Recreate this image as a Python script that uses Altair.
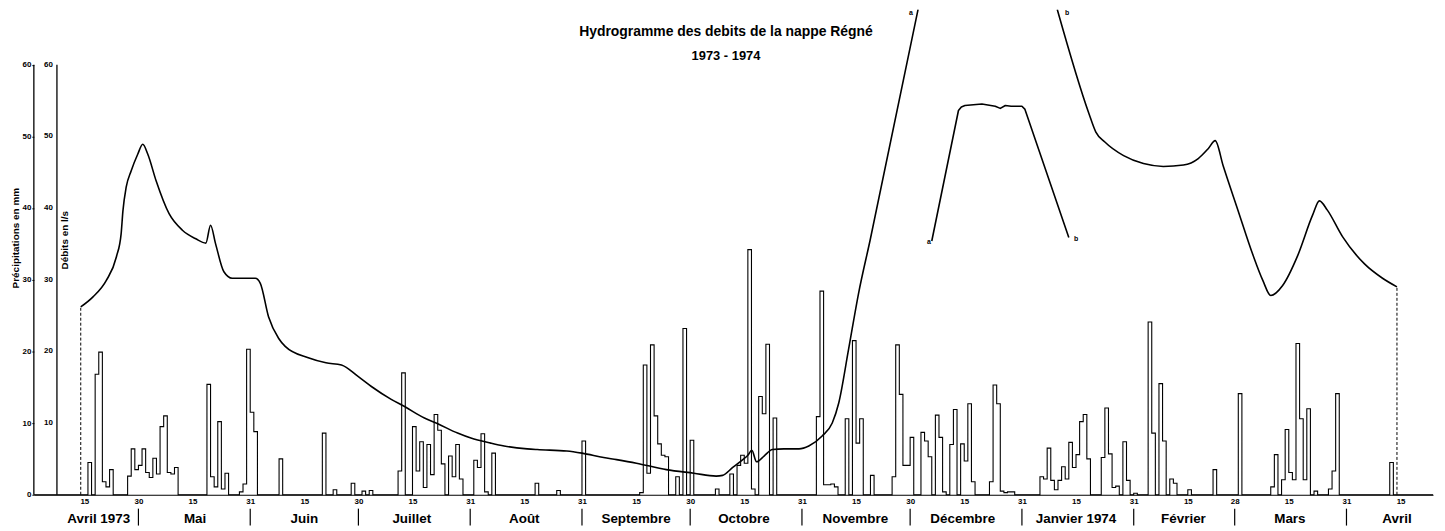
import altair as alt
import pandas as pd

# ---------------- data ----------------
# day index = days since 1 April 1973 (day 0 = 1 April 1973)
rain_day = [16, 18, 19, 20, 21, 22,
            27, 28, 29, 30, 31, 32, 33, 34, 35, 36, 37, 38, 39, 40,
            49, 50, 51, 52, 53, 54, 58, 59, 60, 61, 62,
            69, 81, 84, 89, 92, 94,
            102, 103, 106, 107, 108, 109, 110, 111, 112, 113, 114,
            116, 117, 118, 119, 123, 124, 125, 126, 128,
            140, 146, 153,
            169, 170, 171, 172, 173, 174, 175, 176, 179, 181, 183,
            190, 194, 196, 197, 198, 199, 200, 202, 203, 204, 206,
            218, 219, 220, 221, 222, 223, 226, 228, 229, 230, 233,
            239, 240, 241, 242, 243, 244, 247, 248, 249, 251, 252, 253,
            255, 256, 258, 259, 260, 261, 266, 267, 268, 269, 270, 271, 272,
            280, 281, 282, 283, 284, 285, 286, 287, 288, 289, 290, 291, 292, 293,
            297, 298, 299, 300, 301, 303, 304, 306,
            310, 311, 313, 314, 316, 317, 321, 328, 335,
            344, 345, 347, 348, 349, 350, 351, 352, 353, 354, 356,
            360, 361, 362, 377]
rain_mm = [4.5, 16.8, 19.9, 1.8, 1.1, 3.5,
           2.6, 6.4, 3.5, 4.1, 6.4, 3.1, 2.4, 5.1, 2.9, 9.5, 11.0, 3.1, 2.9, 3.8,
           15.4, 2.5, 1.1, 10.2, 0.8, 3.0, 0.4, 1.5, 20.3, 11.5, 8.8,
           5.0, 8.6, 0.7, 1.6, 0.5, 0.6,
           3.3, 17.0, 9.5, 3.3, 7.4, 1.0, 7.0, 2.8, 11.2, 9.0, 4.3,
           5.4, 2.5, 7.0, 2.2, 4.8, 3.8, 8.5, 0.4, 5.8,
           1.6, 0.6, 7.5,
           0.3, 18.1, 3.0, 20.9, 11.0, 7.1, 5.5, 5.3, 2.5, 23.2, 7.6,
           0.8, 2.9, 4.1, 5.5, 4.4, 34.2, 0.8, 13.7, 11.3, 21.0, 10.7,
           10.9, 28.4, 1.4, 1.4, 1.5, 1.1, 10.6, 21.5, 7.2, 10.6, 2.7,
           2.5, 20.9, 14.0, 4.1, 4.1, 8.0, 8.7, 7.5, 5.3, 11.1, 8.0, 0.4,
           7.0, 11.9, 7.1, 4.7, 12.7, 1.8, 1.8, 15.3, 12.7, 0.5, 0.3, 0.4, 0.4,
           2.5, 2.2, 6.5, 2.0, 0.7, 2.0, 3.9, 2.2, 7.3, 3.8, 5.6, 10.2, 11.2, 5.0,
           5.2, 12.1, 5.7, 1.0, 1.2, 7.4, 2.0, 0.2,
           24.1, 8.6, 15.5, 7.5, 2.2, 1.6, 0.7, 3.5, 14.1,
           1.1, 5.6, 2.1, 9.1, 3.1, 2.1, 21.1, 10.6, 2.1, 12.0, 0.5,
           0.8, 3.3, 14.1, 4.5]

# discharge (l/s) - main curve up to break "a"
q1_day = [14, 17.4, 21.1, 23.9, 25.2, 25.7, 26.6, 28, 29.8, 31.2, 32.6, 34.9,
          38.5, 42.2, 45.9, 48.7, 50, 51.4, 53.7, 56, 62.4, 63.8, 66.1, 68.9,
          70.7, 77.1, 82, 86.3, 90.9, 94.6, 100.1, 103.8, 109.3, 113, 118.5,
          122.2, 127.7, 131.4, 137.8, 140.6, 148.8, 153, 159, 162.6, 168.1,
          176.4, 184, 190.2, 192, 194.8, 197.6, 199, 200.1, 201.4, 203.5,
          205.8, 209, 213.2, 215.9, 219.6, 222.4, 224.2, 226.9, 229.7, 232.9,
          246.2]
q1_val = [26.2, 27.6, 29.9, 33.2, 36.4, 39.6, 42.9, 45.2, 47.5, 48.9, 47.5, 43.8,
          39.2, 36.9, 35.7, 35.1, 37.6, 35.0, 31.1, 30.2, 30.2, 29.5, 24.8, 21.8,
          20.7, 19.1, 18.4, 18.1, 16.5, 15.1, 13.3, 12.3, 10.7, 9.9, 8.6,
          7.9, 7.2, 6.8, 6.4, 6.3, 6.1, 5.8, 5.2, 4.9, 4.4,
          3.5, 3.0, 2.6, 2.7, 3.8, 4.9, 5.5, 6.2, 4.6, 5.4,
          6.3, 6.4, 6.4, 6.8, 8.2, 10.0, 12.8, 20.2, 28.1, 35.5,
          67.7]
# section between "a" and "b", drawn lowered
q2_day = [250, 257.4, 258.2, 259.2, 263.9, 267.6, 269, 270.4, 272, 275.0, 275.8, 288]
q2_val = [35.4, 53.6, 54.1, 54.3, 54.5, 54.2, 53.9, 54.3, 54.2, 54.2, 53.8, 35.9]
# curve after break "b"
q3_day = [284.8, 293.5, 295.5, 298, 303.2, 308.7, 314.2, 319.8, 323.9, 326.7,
          328.6, 330.8, 334.9, 339.1, 341.8, 344.0, 347.3, 351.5, 355.6, 357.5,
          359.7, 363.9, 370, 375, 379]
q3_val = [67.7, 53.3, 50.6, 49.2, 47.3, 46.2, 45.8, 46.0, 46.9, 48.3,
          49.4, 45.9, 39.7, 33.4, 29.9, 27.8, 29.2, 33.4, 39.0, 41.0,
          39.7, 36.0, 32.2, 30.2, 29.0]

tick_days = [15, 30, 45, 61, 76, 91, 106, 122, 137, 153, 168, 183, 198, 214,
             229, 244, 259, 275, 290, 306, 321, 334, 349, 365, 380]
tick_labels = ["15", "30", "15", "31", "15", "30", "15", "31", "15", "31", "15",
               "30", "15", "31", "15", "30", "15", "31", "15", "31", "15", "28",
               "15", "31", "15"]
month_sep = [30, 61, 91, 122, 153, 183, 214, 244, 275, 306, 334, 365]
month_names = ["Avril 1973", "Mai", "Juin", "Juillet", "Août", "Septembre",
               "Octobre", "Novembre", "Décembre", "Janvier 1974", "Février",
               "Mars", "Avril"]
month_pos = [19, 45.7, 76, 105.8, 137, 168, 197.9, 228.8, 258.6, 290, 319.8,
             349.3, 379]
y_ticks = [0, 10, 20, 30, 40, 50, 60]
break_labels = ["a", "b", "a", "b"]
break_day = [244.2, 287.5, 249.2, 290.0]
break_val = [67.2, 67.2, 35.3, 35.7]

# ---------------- frames ----------------
FONT = "Liberation Sans"
W, H = 1407, 488
days = list(range(1, 390))
rmap = dict(zip(rain_day, rain_mm))
rain_df = pd.DataFrame({"d": days, "v": [rmap.get(d, 0.0) for d in days]})

q_smooth = pd.concat([
    pd.DataFrame({"d": q1_day, "v": q1_val, "seg": "1"}),
    pd.DataFrame({"d": q3_day, "v": q3_val, "seg": "3"}),
])
q_inset = pd.DataFrame({"d": q2_day, "v": q2_val})
dash_df = pd.DataFrame({"d": [q1_day[0], q3_day[-1]], "lo": [0, 0],
                        "v": [q1_val[0], q3_val[-1]]})
axis_df = pd.DataFrame({"d": [1, 7.4], "lo": [0, 0], "v": [60, 60]})
ax2_df = pd.DataFrame({"v": y_ticks[1:], "t": [str(t) for t in y_ticks[1:]]})
sep_df = pd.DataFrame({"d": month_sep})
mon_df = pd.DataFrame({"d": month_pos, "t": month_names})
brk_df = pd.DataFrame({"d": break_day, "v": break_val, "t": break_labels})

xs = alt.Scale(domain=[1, 389], nice=False, zero=False)
ys = alt.Scale(domain=[0, 67.7], nice=False, zero=True)

lab_expr = "[" + ",".join("'%s'" % s for s in tick_labels) + "][indexof([" + \
    ",".join(str(d) for d in tick_days) + "], datum.value)]"
xaxis = alt.Axis(values=tick_days, labelExpr=lab_expr, title=None, ticks=False,
                 domainColor="black", domainWidth=1.2, labelFontSize=8,
                 labelFont=FONT, labelFontWeight="bold", labelColor="black",
                 labelPadding=3, labelOverlap=False, labelFlush=False, grid=False)
yaxis = alt.Axis(values=y_ticks, title=None, domain=False, ticks=True, tickSize=2,
                 tickColor="black", labelFontSize=8, labelFont=FONT,
                 labelFontWeight="bold", labelColor="black", labelPadding=1,
                 grid=False)


def X(f="d"):
    return alt.X(f"{f}:Q", scale=xs, axis=xaxis)


def Y(f="v"):
    return alt.Y(f"{f}:Q", scale=ys, axis=yaxis)


rain = alt.Chart(rain_df).mark_line(interpolate="step-after", color="black",
                                    strokeWidth=1.1).encode(x=X(), y=Y())
flow = alt.Chart(q_smooth).mark_line(interpolate="monotone", color="black",
                                     strokeWidth=1.6, clip=True).encode(
    x=X(), y=Y(), detail="seg:N")
inset = alt.Chart(q_inset).mark_line(interpolate="linear", color="black",
                                     strokeWidth=1.6, strokeJoin="round").encode(
    x=X(), y=Y())
dash = alt.Chart(dash_df).mark_rule(color="black", strokeWidth=1,
                                    strokeDash=[3, 2]).encode(
    x=X(), y=Y("lo"), y2="v:Q")
axl = alt.Chart(axis_df).mark_rule(color="black", strokeWidth=1.3).encode(
    x=X(), y=Y("lo"), y2="v:Q")
ax2 = alt.Chart(ax2_df).mark_text(align="right", baseline="middle", dx=-4,
                                  fontSize=8, font=FONT, fontWeight="bold",
                                  color="black").encode(
    x=alt.datum(7.4), y=Y(), text="t:N")
seps = alt.Chart(sep_df).mark_rule(color="black", strokeWidth=1.2).encode(
    x=X(), y=alt.value(H + 14), y2=alt.value(H + 31))
months = alt.Chart(mon_df).mark_text(baseline="middle", fontSize=13.5, font=FONT,
                                     fontWeight="bold", color="black").encode(
    x=X(), y=alt.value(H + 24), text="t:N")
brk = alt.Chart(brk_df).mark_text(baseline="middle", fontSize=7, font=FONT,
                                  fontWeight="bold", color="black").encode(
    x=X(), y=Y(), text="t:N")

ttl_df = pd.DataFrame({"t": ["Hydrogramme des debits  de la nappe Régné"]})
sub_df = pd.DataFrame({"t": ["1973 - 1974"]})
yl1_df = pd.DataFrame({"t": ["Précipitations en mm"]})
yl2_df = pd.DataFrame({"t": ["Débits en l/s"]})

ttl = alt.Chart(ttl_df).mark_text(fontSize=14, font=FONT, fontWeight="bold",
                                  color="black").encode(
    x=alt.value(696), y=alt.value(23), text="t:N")
sub = alt.Chart(sub_df).mark_text(fontSize=13, font=FONT, fontWeight="bold",
                                  color="black").encode(
    x=alt.value(696), y=alt.value(47), text="t:N")
yl1 = alt.Chart(yl1_df).mark_text(fontSize=10, font=FONT, fontWeight="bold",
                                  angle=270, color="black").encode(
    x=alt.value(-18), y=alt.value(230), text="t:N")
yl2 = alt.Chart(yl2_df).mark_text(fontSize=10, font=FONT, fontWeight="bold",
                                  angle=270, color="black").encode(
    x=alt.value(31), y=alt.value(232), text="t:N")

chart = alt.layer(rain, flow, inset, dash, axl, ax2, seps, months, brk, ttl, sub,
                  yl1, yl2).properties(
    width=W, height=H,
    autosize=alt.AutoSizeParams(type="none"),
    padding={"left": 26, "top": 0, "right": 4, "bottom": 32},
    background="white",
).configure_view(stroke=None)

chart.save("out.html", embed_options={"renderer": "svg", "actions": False})
